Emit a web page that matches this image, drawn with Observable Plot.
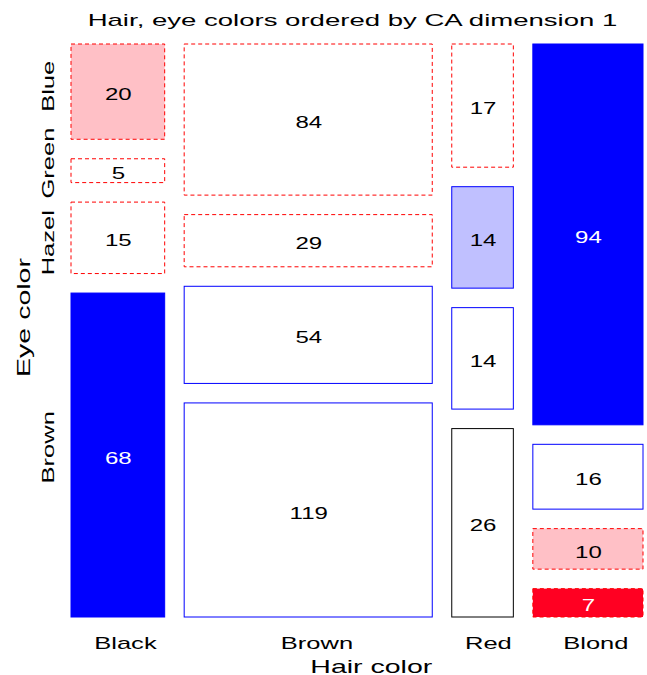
<!DOCTYPE html>
<html>
<head>
<meta charset="utf-8">
<script src="https://cdn.jsdelivr.net/npm/d3@7"></script>
<script src="https://cdn.jsdelivr.net/npm/@observablehq/plot@0.6"></script>
<style>
  body { margin: 0; background: #fff; }
</style>
</head>
<body>
<script>
// ---- data ----
const hairColors = ["Black", "Brown", "Red", "Blond"];
const eyeColors = ["Brown", "Hazel", "Green", "Blue"]; // bottom to top
const blackHair = [68, 15, 5, 20];
const brownHair = [119, 54, 29, 84];
const redHair = [26, 14, 14, 17];
const blondHair = [7, 10, 16, 94];
const titleText = "Hair, eye colors ordered by CA dimension 1";
const xTitle = "Hair color";
const yTitle = "Eye color";

// ---- layout from counts ----
const table = [blackHair, brownHair, redHair, blondHair];
const colTot = table.map(c => d3.sum(c));
const rowTot = eyeColors.map((_, i) => d3.sum(table, c => c[i]));
const N = d3.sum(colTot);
const gapX = 19.5 / 572, gapY = 19.5 / 573;

const tiles = [];
let cx = 0;
table.forEach((col, j) => {
  const w = (1 - 3 * gapX) * colTot[j] / N;
  let cy = 0;
  col.forEach((n, i) => {
    const h = (1 - 3 * gapY) * n / colTot[j];
    const e = colTot[j] * rowTot[i] / N;
    const r = (n - e) / Math.sqrt(e);
    tiles.push({hair: hairColors[j], eye: eyeColors[i], n, r,
      x1: cx, x2: cx + w, y1: cy, y2: cy + h});
    cy += h + gapY;
  });
  cx += w + gapX;
});
const fillOf = d => d.r > 4 ? "#0000ff" : d.r > 2 ? "#c0c0ff" : d.r < -4 ? "#ff0022" : d.r < -2 ? "#ffc0c6" : "#ffffff";
const strokeOf = d => Math.abs(d.r) < 0.1 ? "#000000" : d.r > 0 ? "#0000ff" : "#ff0000";
const colCenters = hairColors.map(h => { const t = tiles.find(d => d.hair === h); return (t.x1 + t.x2) / 2; });
const firstCol = tiles.filter(d => d.hair === hairColors[0]);

const font = "Liberation Sans, Arial, Helvetica, sans-serif";

const chart = Plot.plot({
  width: 647,
  height: 675,
  marginLeft: 71,
  marginRight: 4,
  marginTop: 44,
  marginBottom: 58,
  style: {fontFamily: font, background: "#fff"},
  x: {domain: [0, 1], axis: null},
  y: {domain: [0, 1], axis: null},
  marks: [
    Plot.rect(tiles.filter(d => d.r >= -0.1), {x1: "x1", x2: "x2", y1: "y1", y2: "y2",
      fill: fillOf, stroke: strokeOf, strokeWidth: 1}),
    Plot.rect(tiles.filter(d => d.r < -0.1), {x1: "x1", x2: "x2", y1: "y1", y2: "y2",
      fill: fillOf, stroke: strokeOf, strokeWidth: 1, strokeDasharray: "4,3"}),
    Plot.text(tiles, {x: d => (d.x1 + d.x2) / 2, y: d => (d.y1 + d.y2) / 2, text: d => String(d.n),
      fill: d => Math.abs(d.r) > 4 ? "#ffffff" : "#000000", fontSize: 16, dy: 3}),
    Plot.text(hairColors, {x: (d, i) => colCenters[i], text: d => d, frameAnchor: "bottom",
      lineAnchor: "bottom", dy: 31, fontSize: 17, fill: "#000"}),
    Plot.text(firstCol, {y: d => (d.y1 + d.y2) / 2, text: "eye", frameAnchor: "left",
      rotate: -90, lineAnchor: "bottom", dx: -18, fontSize: 17, fill: "#000"}),
    Plot.text([xTitle], {frameAnchor: "bottom", lineAnchor: "bottom", dy: 55, fontSize: 19, fill: "#000"}),
    Plot.text([yTitle], {frameAnchor: "left", rotate: -90, lineAnchor: "bottom", dx: -42, fontSize: 19, fill: "#000"}),
    Plot.text([titleText], {frameAnchor: "top", lineAnchor: "bottom", dy: -19, dx: -5, fontSize: 17, fill: "#000"})
  ]
});
document.body.append(chart);

// the reference uses a horizontally wide font: stretch each label along its baseline.
// Axis labels are laid out for a narrower width and then widen in reading direction.
const startAnchored = new Set([...hairColors, ...eyeColors, xTitle, yTitle]);
chart.querySelectorAll("text").forEach(t => {
  const s = t.textContent;
  const L = t.getComputedTextLength();
  const k = s === titleText ? 1.62 : 1.5;
  if (startAnchored.has(s)) {
    t.setAttribute("text-anchor", "start");
    t.setAttribute("dx", (-(k * L) / 2 + 0.17 * L).toFixed(1));
  }
  t.setAttribute("textLength", (L * k).toFixed(1));
  t.setAttribute("lengthAdjust", "spacingAndGlyphs");
});

// keep rotated eye-colour labels from running into each other (push lower ones down)
const eyeSet = new Set(eyeColors);
const rotated = Array.from(chart.querySelectorAll("text"))
  .filter(t => eyeSet.has(t.textContent) && (t.getAttribute("transform") || "").includes("rotate"))
  .map(t => ({t, box: t.getBoundingClientRect()}))
  .sort((a, b) => a.box.top - b.box.top);
const minGap = 11.5;
let prevBottom = -Infinity;
rotated.forEach(({t, box}) => {
  let top = box.top, bottom = box.bottom;
  if (top < prevBottom + minGap) {
    const delta = prevBottom + minGap - top;
    t.setAttribute("dx", (+t.getAttribute("dx") - delta).toFixed(1));
    top += delta; bottom += delta;
  }
  prevBottom = bottom;
});
</script>
</body>
</html>
